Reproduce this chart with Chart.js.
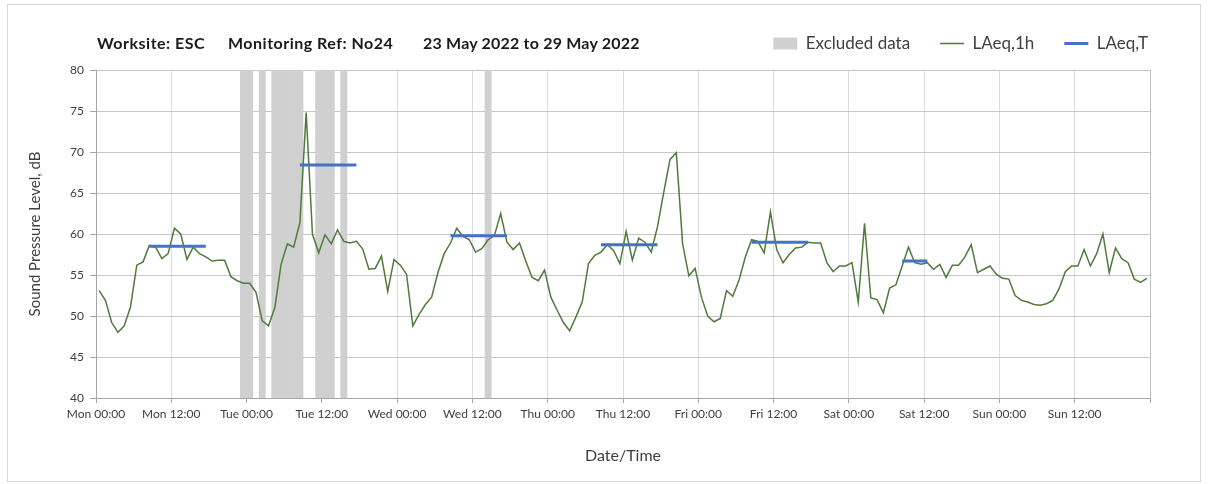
<!DOCTYPE html>
<html>
<head>
<meta charset="utf-8">
<script src="https://cdn.jsdelivr.net/npm/chart.js@4/dist/chart.umd.min.js"></script>
<style>
  body { margin: 0; background: #fff; }
  #wrap { position: relative; width: 1208px; height: 484px; }
  #frame { position: absolute; left: 7px; top: 4px; width: 1192px; height: 476px; border: 1px solid #d9d9d9; pointer-events: none; }
  .head { position: absolute; top: 33px; font: bold 16px Lato, sans-serif; letter-spacing: 0.5px; color: #1a1a1a; white-space: nowrap; line-height: 19px; }
</style>
</head>
<body>
<div id="wrap">
  <canvas id="noiseChart" width="1208" height="484"></canvas>
  <div class="head" style="left:97px">Worksite: ESC</div>
  <div class="head" style="left:228px">Monitoring Ref: No24</div>
  <div class="head" style="left:423px; letter-spacing:0.2px">23 May 2022 to 29 May 2022</div>
  <div id="frame"></div>
</div>
<script>
// DATA
// hourly LAeq,1h from Mon 00:00 (one value per hour, 168 hours)
const laeq1h = [
  53.1, 51.9, 49.2, 48.0, 48.8, 51.1, 56.2, 56.6, 58.6, 58.4, 57.0, 57.6,
  60.7, 60.0, 56.9, 58.4, 57.6, 57.2, 56.7, 56.8, 56.8, 54.8, 54.3, 54.0,
  54.0, 52.9, 49.4, 48.8, 51.0, 56.3, 58.8, 58.4, 61.4, 74.8, 60.0, 57.7,
  59.9, 58.8, 60.5, 59.1, 58.9, 59.1, 58.2, 55.7, 55.8, 57.3, 53.0, 56.9,
  56.2, 55.1, 48.8, 50.2, 51.4, 52.3, 55.3, 57.6, 58.9, 60.7, 59.7, 59.3,
  57.8, 58.2, 59.3, 59.8, 62.5, 59.0, 58.1, 58.9, 56.7, 54.7, 54.3, 55.6,
  52.3, 50.7, 49.2, 48.2, 49.9, 51.7, 56.4, 57.4, 57.8, 58.7, 58.0, 56.4,
  60.3, 56.8, 59.5, 59.0, 57.8, 60.9, 65.1, 69.1, 69.9, 58.8, 54.9, 55.8,
  52.3, 50.0, 49.3, 49.7, 53.1, 52.4, 54.4, 57.2, 59.3, 59.1, 57.7, 62.7,
  58.1, 56.5, 57.5, 58.3, 58.4, 59.0, 58.9, 58.9, 56.5, 55.4, 56.1, 56.1,
  56.5, 51.7, 61.3, 52.2, 52.0, 50.4, 53.4, 53.8, 56.1, 58.4, 56.5, 56.3,
  56.5, 55.7, 56.3, 54.7, 56.2, 56.2, 57.2, 58.7, 55.3, 55.7, 56.1, 55.1,
  54.6, 54.5, 52.5, 51.9, 51.7, 51.4, 51.3, 51.5, 51.9, 53.3, 55.4, 56.1,
  56.1, 58.1, 56.1, 57.6, 60.0, 55.3, 58.3, 57.0, 56.5, 54.5, 54.1, 54.6
];

// LAeq,T over the working period of each day (first hour, last hour, level)
const periodStart = [8, 32, 56, 80, 104, 128];
const periodEnd   = [17, 41, 65, 89, 113, 132];
const periodLevel = [58.5, 68.4, 59.8, 58.7, 59.0, 56.7];

// hours flagged as excluded data
const excludedHours = [23, 24, 26, 28, 29, 30, 31, 32, 35, 36, 37, 39, 62];

const xTicks = [0, 12, 24, 36, 48, 60, 72, 84, 96, 108, 120, 132, 144, 156, 168];
const xTickLabels = [
  'Mon 00:00', 'Mon 12:00', 'Tue 00:00', 'Tue 12:00', 'Wed 00:00', 'Wed 12:00',
  'Thu 00:00', 'Thu 12:00', 'Fri 00:00', 'Fri 12:00', 'Sat 00:00', 'Sat 12:00',
  'Sun 00:00', 'Sun 12:00', ''
];

// BUILD SERIES (points sit in the middle of each hour)
const hourlyPoints = laeq1h.map((v, i) => ({ x: i + 0.5, y: v }));

const periodPoints = [];
periodStart.forEach((s, k) => {
  periodPoints.push({ x: s + 0.5, y: periodLevel[k] });
  periodPoints.push({ x: periodEnd[k] + 0.5, y: periodLevel[k] });
  periodPoints.push({ x: periodEnd[k] + 1, y: null });
});

const excludedBars = excludedHours.map(h => ({ x: h + 0.5, y: 80 }));

// legend shares the title row, so keep its box a fixed height
const legendHeight = {
  id: 'legendHeight',
  beforeInit(chart) {
    const fit = chart.legend.fit;
    chart.legend.fit = function () {
      fit.call(this);
      this.height = 65;
    };
  }
};

const tickFont = { family: 'Lato', size: 12 };

new Chart(document.getElementById('noiseChart'), {
  type: 'line',
  data: {
    datasets: [
      {
        type: 'bar',
        label: 'Excluded data',
        data: excludedBars,
        backgroundColor: '#d0d0d0',
        borderWidth: 0,
        barPercentage: 1,
        categoryPercentage: 1,
        pointStyle: 'rect',
        order: 3
      },
      {
        label: 'LAeq,1h',
        data: hourlyPoints,
        borderColor: '#507a3c',
        borderWidth: 1.5,
        pointRadius: 0,
        pointStyle: 'line',
        tension: 0,
        order: 2
      },
      {
        label: 'LAeq,T',
        data: periodPoints,
        borderColor: '#4472c4',
        borderWidth: 3,
        pointRadius: 0,
        pointStyle: 'line',
        spanGaps: false,
        order: 1
      }
    ]
  },
  options: {
    responsive: false,
    animation: false,
    layout: { padding: { left: 10, right: 30, top: 5, bottom: 0 } },
    scales: {
      x: {
        type: 'linear',
        min: 0,
        max: 168,
        offset: false,
        afterBuildTicks: s => { s.ticks = xTicks.map(v => ({ value: v })); },
        ticks: {
          autoSkip: false,
          maxRotation: 0,
          padding: 4,
          font: tickFont,
          color: '#404040',
          callback: (v, i) => xTickLabels[i]
        },
        grid: {
          offset: false,
          color: c => (c.tick && c.tick.value === 168 ? '#bfbfbf' : '#dedede'),
          tickLength: 5,
          tickColor: '#a6a6a6'
        },
        border: { color: '#a6a6a6' },
        title: {
          display: true,
          text: 'Date/Time',
          color: '#404040',
          font: { family: 'Lato', size: 16 },
          padding: { top: 0, bottom: 19 }
        },
        afterFit: s => { s.height = 86; }
      },
      y: {
        min: 40,
        max: 80,
        ticks: { stepSize: 5, padding: 6, font: tickFont, color: '#404040' },
        grid: { color: '#c6c6c6', tickLength: 6, tickColor: '#a6a6a6' },
        border: { color: '#a6a6a6' },
        title: {
          display: true,
          text: 'Sound Pressure Level, dB',
          color: '#404040',
          font: { family: 'Lato', size: 15 },
          padding: { top: 16, bottom: 0 }
        },
        afterFit: s => { s.width = 86; }
      },
      gap: {
        position: 'right',
        display: true,
        grid: { display: false },
        ticks: { display: false },
        border: { display: false },
        afterFit: s => { s.width = 28; }
      }
    },
    plugins: {
      legend: {
        position: 'top',
        align: 'end',
        labels: {
          usePointStyle: true,
          pointStyleWidth: 24,
          boxHeight: 12,
          padding: 30,
          color: '#404040',
          font: { family: 'Lato', size: 17 },
          sort: (a, b) => a.datasetIndex - b.datasetIndex
        }
      },
      tooltip: { enabled: false }
    }
  },
  plugins: [legendHeight]
});
</script>
</body>
</html>
